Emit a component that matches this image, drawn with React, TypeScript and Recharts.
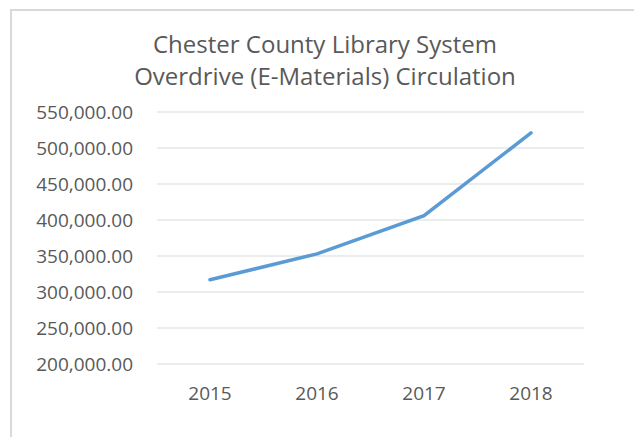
import React from "react";
import { LineChart, Line, XAxis, YAxis, CartesianGrid } from "recharts";

const years = ["2015", "2016", "2017", "2018"];
const circulation = [317000, 353000, 406000, 521000];
const yTicks = [200000, 250000, 300000, 350000, 400000, 450000, 500000, 550000];
const titleLines = ["Chester County Library System", "Overdrive (E-Materials) Circulation"];

const data = years.map((y, i) => ({ year: y, value: circulation[i] }));

const FONT = "'Open Sans', sans-serif";
const TEXT = "#595959";

const fmt = (v: number) =>
  v.toLocaleString("en-US", { minimumFractionDigits: 2, maximumFractionDigits: 2 });

export default function App() {
  return (
    <div
      style={{
        position: "absolute",
        left: 0,
        top: 0,
        width: 634,
        height: 437,
        background: "#fff",
        overflow: "hidden",
        fontFamily: FONT,
      }}
    >
      <div
        style={{
          position: "absolute",
          left: 10,
          top: 9,
          width: 700,
          height: 500,
          borderLeft: "2px solid #d9d9d9",
          borderTop: "2px solid #d9d9d9",
        }}
      />
      {titleLines.map((t, i) => (
        <div
          key={t}
          style={{
            position: "absolute",
            left: 0,
            width: 650,
            top: 27 + i * 32,
            height: 33,
            lineHeight: "33px",
            textAlign: "center",
            fontSize: 24,
            color: TEXT,
            whiteSpace: "nowrap",
          }}
        >
          {t}
        </div>
      ))}
      <div style={{ position: "absolute", left: 0, top: 0 }}>
        <LineChart
          width={634}
          height={437}
          data={data}
          margin={{ top: 112, right: 50, bottom: 43, left: 0 }}
        >
          <CartesianGrid vertical={false} stroke="#d9d9d9" strokeWidth={1} />
          <XAxis
            dataKey="year"
            axisLine={false}
            tickLine={false}
            tickMargin={17}
            height={30}
            padding={{ left: 53, right: 53 }}
            tick={{ fill: TEXT, fontSize: 19, fontFamily: FONT }}
            interval={0}
          />
          <YAxis
            domain={[200000, 550000]}
            ticks={yTicks}
            axisLine={false}
            tickLine={false}
            tickMargin={18}
            width={157}
            tickFormatter={fmt}
            tick={{ fill: TEXT, fontSize: 19, fontFamily: FONT }}
            interval={0}
          />
          <Line
            type="linear"
            dataKey="value"
            stroke="#5B9BD5"
            strokeWidth={3.5}
            strokeLinecap="round"
            dot={false}
            activeDot={false}
            isAnimationActive={false}
          />
        </LineChart>
      </div>
    </div>
  );
}
